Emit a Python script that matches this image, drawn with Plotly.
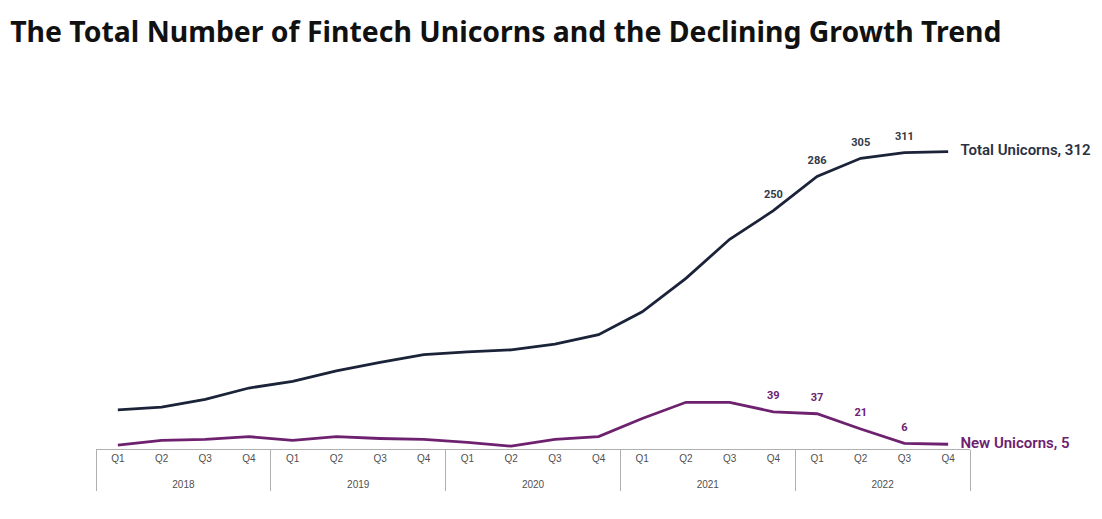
import plotly.graph_objects as go

# quarterly figures
years = ["2018", "2019", "2020", "2021", "2022"]
quarters = ["Q1", "Q2", "Q3", "Q4"]

total_unicorns = [41, 44, 52, 64, 71, 82, 91, 99, 102, 104,
                  110, 120, 144, 179, 220, 250, 286, 305, 311, 312]
new_unicorns = [4, 9, 10, 13, 9, 13, 11, 10, 7, 3,
                10, 13, 32, 49, 49, 39, 37, 21, 6, 5]

# only the last few quarters carry value labels
labelled_from = 15

TOTAL_COLOR = "#1b2339"
NEW_COLOR = "#6d216f"

# leading <br> drops the year row a line below the quarter row
x_year = ["<br>" + y for y in years for _ in quarters]
x_quarter = [q for _ in years for q in quarters]
x = [x_year, x_quarter]
n = len(x_quarter)


def point_labels(values):
    return [str(v) if labelled_from <= i < n - 1 else "" for i, v in enumerate(values)]


def end_label(name, values):
    return ["" for _ in values[:-1]] + [f"{name}, {values[-1]}"]


fig = go.Figure()

fig.add_trace(go.Scatter(
    x=x, y=total_unicorns, mode="lines",
    line=dict(color=TOTAL_COLOR, width=2.8),
    name="Total Unicorns", hoverinfo="skip",
))
fig.add_trace(go.Scatter(
    x=x, y=new_unicorns, mode="lines",
    line=dict(color=NEW_COLOR, width=2.8),
    name="New Unicorns", hoverinfo="skip",
))

# value labels above points
for values, color in ((total_unicorns, "#333a48"), (new_unicorns, NEW_COLOR)):
    fig.add_trace(go.Scatter(
        x=x, y=values, mode="markers+text",
        marker=dict(size=14, color="rgba(0,0,0,0)"),
        text=point_labels(values), textposition="top center",
        textfont=dict(family="Roboto", size=11, color=color, weight="bold"),
        cliponaxis=False, hoverinfo="skip", showlegend=False,
    ))

# series names at the line ends
for name, values, color in (("Total Unicorns", total_unicorns, "#2a3142"),
                            ("New Unicorns", new_unicorns, NEW_COLOR)):
    fig.add_trace(go.Scatter(
        x=x, y=values, mode="markers+text",
        marker=dict(size=18, color="rgba(0,0,0,0)"),
        text=end_label(name, values), textposition="middle right",
        textfont=dict(family="Roboto", size=15, color=color, weight=600),
        cliponaxis=False, hoverinfo="skip", showlegend=False,
    ))

fig.update_xaxes(
    type="multicategory",
    range=[-0.5, n - 0.5],
    showline=True, linecolor="#b0b0b0", linewidth=1,
    showdividers=True, dividercolor="#b0b0b0", dividerwidth=1,
    showgrid=False, zeroline=False, ticks="",
    tickfont=dict(family="Liberation Sans", size=10, color="#505050"),
)
fig.update_yaxes(
    range=[0, 363], visible=False, showgrid=False, zeroline=False,
)

fig.update_layout(
    width=1102, height=519,
    margin=dict(l=88, r=140, t=95, b=78),
    paper_bgcolor="white", plot_bgcolor="white",
    showlegend=False,
    title=dict(
        text="The Total Number of Fintech Unicorns and the Declining Growth Trend",
        x=0.002, xanchor="left", y=0.954, yanchor="middle", yref="container",
        font=dict(family="Noto Sans", size=28.4, color="#111111", weight="bold"),
    ),
)

fig.write_html("out.html")
